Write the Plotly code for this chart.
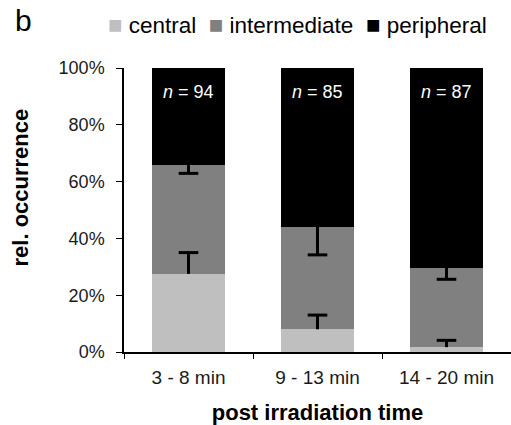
import plotly.graph_objects as go

# ---- data ----
categories = ['3 - 8 min', '9 - 13 min', '14 - 20 min']
series_names = ['central', 'intermediate', 'peripheral']
series_colors = ['#bfbfbf', '#808080', '#000000']
central = [27.5, 8.0, 1.7]
intermediate = [38.3, 36.1, 28.0]
peripheral = [34.2, 55.9, 70.3]
central_err = [7.5, 5.0, 2.4]          # upward from top of central segment
intermediate_err = [2.9, 9.9, 4.1]     # downward from top of intermediate segment
peripheral_err = [0.7, 0.7, 0.7]       # tiny stub above 100 %
n_counts = [94, 85, 87]
y_ticks = [0, 20, 40, 60, 80, 100]

# ---- layout geometry (pixels) ----
W, H = 511, 425
L, R, T, B = 124, 0, 68, 73
PW, PH = W - L - R, H - T - B

def px_x(px):
    return (px - L) / PW

def px_y(py):
    return (H - B - py) / PH

FONT = 'Liberation Sans, Arial, DejaVu Sans, sans-serif'

fig = go.Figure()
values = [central, intermediate, peripheral]
for name, color, vals in zip(series_names, series_colors, values):
    fig.add_trace(go.Bar(x=categories, y=vals, name=name,
                         marker=dict(color=color, line=dict(width=0)),
                         showlegend=False))

central_top = list(central)
inter_top = [c + i for c, i in zip(central, intermediate)]
peri_top = [c + i + p for c, i, p in zip(central, intermediate, peripheral)]


def stem(y, up, down, thick):
    # vertical error stem without caps
    fig.add_trace(go.Scatter(x=categories, y=y, mode='markers',
                             marker=dict(size=0.1, opacity=0), showlegend=False,
                             cliponaxis=False, hoverinfo='skip',
                             error_y=dict(type='data', symmetric=False,
                                          array=up, arrayminus=down,
                                          color='black', thickness=thick, width=0)))


def cap(y):
    # single horizontal cap at the end of an error bar
    fig.add_trace(go.Scatter(x=categories, y=y, mode='markers',
                             marker=dict(symbol='line-ew', size=14,
                                         line=dict(color='black', width=3)),
                             showlegend=False, cliponaxis=False, hoverinfo='skip'))


stem(central_top, central_err, [0] * 3, 3)
cap([t + e for t, e in zip(central_top, central_err)])
stem(inter_top, [0] * 3, intermediate_err, 3)
cap([t - e for t, e in zip(inter_top, intermediate_err)])
stem(peri_top, peripheral_err, [0] * 3, 1.5)

annotations = []
for cat, n in zip(categories, n_counts):
    annotations.append(dict(x=cat, y=91.7, xref='x', yref='y',
                            text=f'<i>n</i> = {n}', showarrow=False,
                            font=dict(family=FONT, size=18, color='white'),
                            xanchor='center', yanchor='middle'))

legend_text = '&nbsp;&nbsp;'.join(
    f'<span style="color:{c};font-size:24px">■</span>&nbsp;{nm}'
    for nm, c in zip(series_names, series_colors))
annotations.append(dict(x=px_x(106), y=px_y(24.5), xref='paper', yref='paper',
                        text=legend_text, showarrow=False,
                        font=dict(family=FONT, size=22.5, color='black'),
                        xanchor='left', yanchor='middle'))
annotations.append(dict(x=px_x(13), y=px_y(2), xref='paper', yref='paper',
                        text='b', showarrow=False,
                        font=dict(family=FONT, size=30, color='black'),
                        xanchor='left', yanchor='top'))
annotations.append(dict(x=px_x(20), y=px_y(187.5), xref='paper', yref='paper',
                        text='<b>rel. occurrence</b>', showarrow=False,
                        textangle=-90,
                        font=dict(family=FONT, size=22, color='black'),
                        xanchor='center', yanchor='middle'))

fig.update_layout(
    width=W, height=H,
    margin=dict(l=L, r=R, t=T, b=B, pad=0),
    barmode='stack', bargap=0.44,
    plot_bgcolor='white', paper_bgcolor='white',
    font=dict(family=FONT, color='#1a1a1a'),
    annotations=annotations,
    xaxis=dict(type='category', showline=True, linecolor='black', linewidth=1.5,
               ticks='outside', tickson='boundaries', ticklen=5, tickwidth=1.2,
               tickcolor='black', showgrid=False, zeroline=False,
               tickfont=dict(family=FONT, size=19, color='#1a1a1a'),
               ticklabelstandoff=7,
               title=dict(text='<b>post irradiation time</b>',
                          font=dict(family=FONT, size=22, color='black'),
                          standoff=18)),
    yaxis=dict(range=[0, 100], tickvals=y_ticks,
               ticktext=[f'{v}%' for v in y_ticks],
               showline=True, linecolor='black', linewidth=1.5,
               ticks='outside', ticklen=6, tickwidth=1.2, tickcolor='black',
               showgrid=False, zeroline=False,
               tickfont=dict(family=FONT, size=18, color='#1a1a1a'),
               ticklabelstandoff=8),
)

fig.write_html('out.html')
